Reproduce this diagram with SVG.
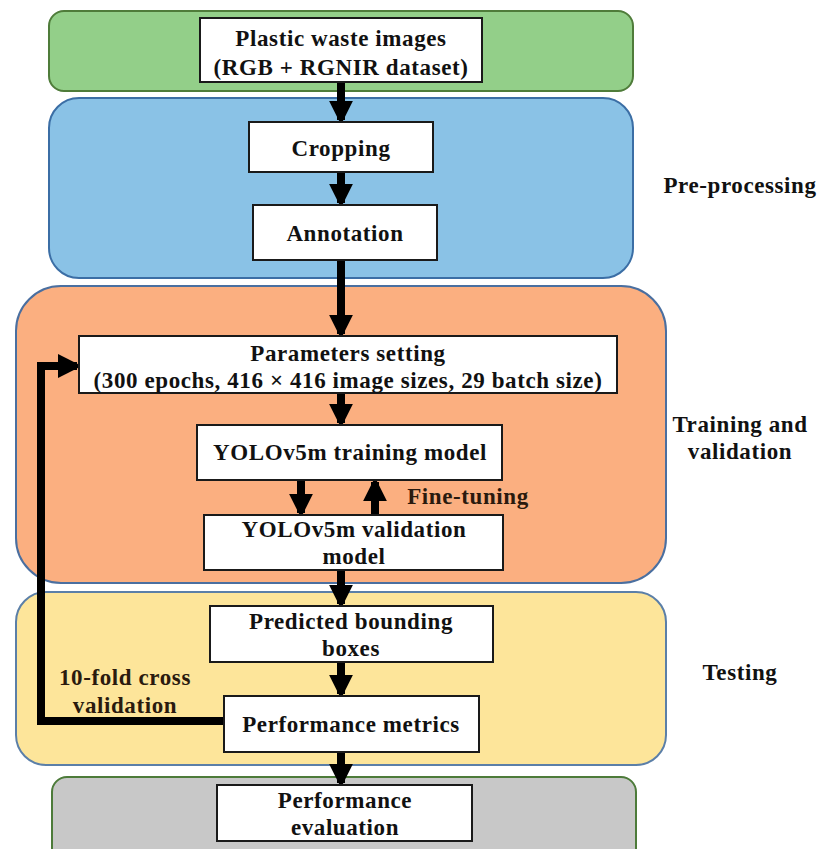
<svg xmlns="http://www.w3.org/2000/svg" width="819" height="849" viewBox="0 0 819 849">
<defs>
<style>
.box{fill:#fff;stroke:#1a1a1a;stroke-width:2}
.t{font-family:"Liberation Serif","DejaVu Serif",serif;font-weight:bold;font-size:23px;letter-spacing:0.6px;fill:#111;text-anchor:middle}
.side{font-family:"Liberation Serif","DejaVu Serif",serif;font-weight:bold;font-size:23px;letter-spacing:0.6px;fill:#111;text-anchor:middle}
.sh{stroke:#000;stroke-width:8;fill:none}
</style>
<marker id="ah" markerWidth="3" markerHeight="3" refX="2.4" refY="1.5" orient="auto" markerUnits="strokeWidth" viewBox="0 0 3 3">
<path d="M0,0 L3,1.5 L0,3 Z" fill="#000"/>
</marker>
</defs>
<rect width="819" height="849" fill="#fff"/>
<g id="panels">
<rect id="panel-input" x="49" y="11" width="584" height="80" rx="15" fill="#93cf89" stroke="#4f7c3a" stroke-width="2"/>
<rect id="panel-pre" x="49" y="98" width="584" height="180" rx="30" fill="#8ac2e6" stroke="#3b6ea5" stroke-width="2"/>
<rect id="panel-train" x="16" y="286" width="650" height="297" rx="45" fill="#fbaf80" stroke="#4a6fa0" stroke-width="2"/>
<rect id="panel-test" x="16" y="592" width="650" height="173" rx="30" fill="#fde59a" stroke="#5b7fa8" stroke-width="2"/>
<rect id="panel-eval" x="52" y="777" width="584" height="90" rx="15" fill="#c8c8c8" stroke="#4d7b3a" stroke-width="2"/>
</g>
<g id="connectors">
<line class="sh" x1="341" y1="82" x2="341" y2="120" marker-end="url(#ah)"/>
<line class="sh" x1="341" y1="172" x2="341" y2="203" marker-end="url(#ah)"/>
<line class="sh" x1="341" y1="260" x2="341" y2="334" marker-end="url(#ah)"/>
<line class="sh" x1="341" y1="393" x2="341" y2="423" marker-end="url(#ah)"/>
<line class="sh" x1="301" y1="480" x2="301" y2="513" marker-end="url(#ah)"/>
<line class="sh" x1="375" y1="515" x2="375" y2="482" marker-end="url(#ah)"/>
<line class="sh" x1="341" y1="570" x2="341" y2="604" marker-end="url(#ah)"/>
<line class="sh" x1="341" y1="662" x2="341" y2="694" marker-end="url(#ah)"/>
<line class="sh" x1="341" y1="752" x2="341" y2="783" marker-end="url(#ah)"/>
<path class="sh" d="M224,721 L41,721 L41,366 L77,366" marker-end="url(#ah)"/>
</g>
<g id="n-input">
<rect class="box" x="200" y="18" width="282" height="64"/>
<text class="t" x="341" y="46">Plastic waste images</text>
<text class="t" x="341" y="75">(RGB + RGNIR dataset)</text>
</g>
<g id="n-crop">
<rect class="box" x="249" y="122" width="184" height="50"/>
<text class="t" x="341" y="156">Cropping</text>
</g>
<g id="n-annot">
<rect class="box" x="253" y="205" width="184" height="55"/>
<text class="t" x="345" y="241">Annotation</text>
</g>
<g id="n-params">
<rect class="box" x="79" y="336" width="538" height="57"/>
<text class="t" x="348" y="361">Parameters setting</text>
<text class="t" x="348" y="388">(300 epochs, 416 × 416 image sizes, 29 batch size)</text>
</g>
<g id="n-train">
<rect class="box" x="197" y="425" width="305" height="55"/>
<text class="t" x="350" y="460">YOLOv5m training model</text>
</g>
<g id="n-val">
<rect class="box" x="204" y="515" width="299" height="55"/>
<text class="t" x="354" y="537">YOLOv5m validation</text>
<text class="t" x="354" y="564">model</text>
</g>
<g id="n-pred">
<rect class="box" x="210" y="606" width="283" height="56"/>
<text class="t" x="351" y="629">Predicted bounding</text>
<text class="t" x="351" y="656">boxes</text>
</g>
<g id="n-metrics">
<rect class="box" x="224" y="696" width="255" height="56"/>
<text class="t" x="351" y="732">Performance metrics</text>
</g>
<g id="n-evaluation">
<rect class="box" x="217" y="785" width="255" height="56"/>
<text class="t" x="345" y="808">Performance</text>
<text class="t" x="345" y="835">evaluation</text>
</g>
<g id="labels">
<text class="t" x="468" y="504" style="fill:#2a1a0e">Fine-tuning</text>
<text class="t" x="125" y="685" style="fill:#2a1a0e">10-fold cross</text>
<text class="t" x="125" y="713" style="fill:#2a1a0e">validation</text>
<text class="side" x="740" y="193">Pre-processing</text>
<text class="side" x="740" y="432">Training and</text>
<text class="side" x="740" y="459">validation</text>
<text class="side" x="740" y="680">Testing</text>
</g>
</svg>
